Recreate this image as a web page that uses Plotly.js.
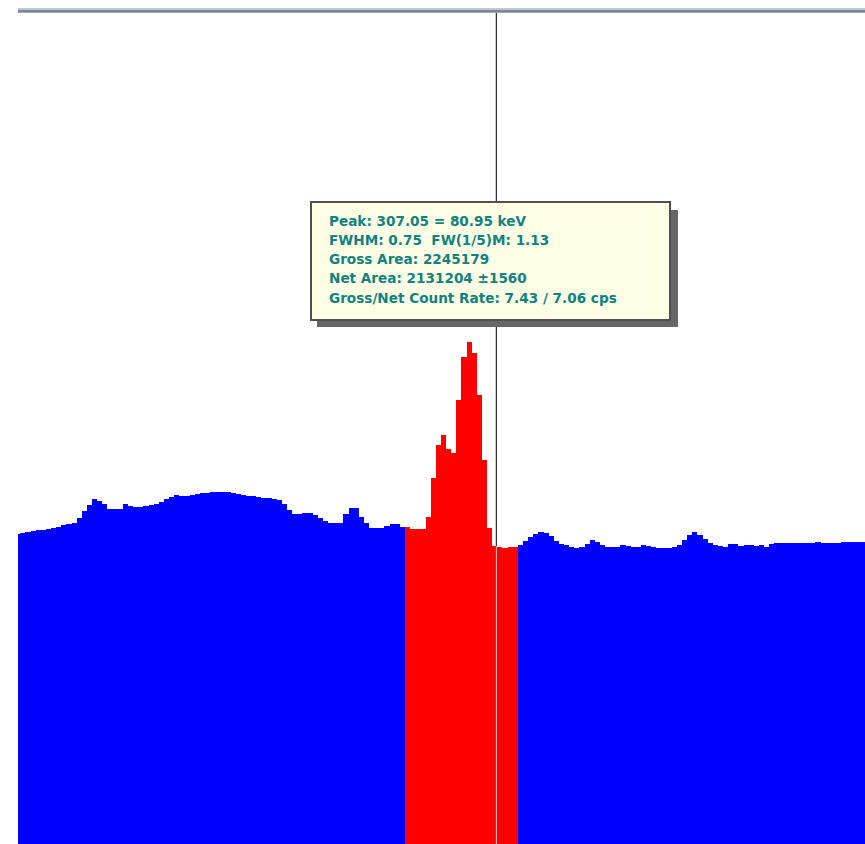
<!DOCTYPE html>
<html>
<head>
<meta charset="utf-8">
<script src="https://cdn.plot.ly/plotly-3.0.1.min.js"></script>
<style>
  html, body { margin: 0; padding: 0; background: #ffffff; }
  #spectrum { width: 865px; height: 844px; }
</style>
</head>
<body>
<div id="spectrum"></div>
<script>
// Counts per channel, below the region of interest (channels 219..294)
const lowFirstChannel = 219;
const lowCounts = [
  3105, 3110, 3120, 3130, 3140, 3145, 3155, 3165, 3175, 3190,
  3200, 3210, 3260, 3330, 3390, 3450, 3430, 3400, 3350, 3350,
  3350, 3400, 3380, 3370, 3375, 3380, 3390, 3400, 3420, 3450,
  3475, 3490, 3480, 3485, 3495, 3500, 3510, 3515, 3520, 3525,
  3525, 3520, 3510, 3500, 3490, 3485, 3480, 3470, 3465, 3460,
  3450, 3440, 3400, 3340, 3300, 3300, 3310, 3310, 3290, 3260,
  3230, 3213, 3213, 3213, 3300, 3360, 3360, 3273, 3210, 3163,
  3163, 3163, 3180, 3197, 3197, 3173
];

// Region of interest around the 80.95 keV peak (channels 295..316)
const roiFirstChannel = 295;
const roiCounts = [
  3170, 3150, 3150, 3150, 3270, 3660, 3990, 4090, 3950, 3910,
  4440, 4870, 5020, 4910, 4490, 3840, 3160, 2980, 2970, 2960,
  2970, 2970
];

// Counts per channel above the region of interest (channels 317..384)
const highFirstChannel = 317;
const highCounts = [
  2990, 3030, 3070, 3100, 3120, 3115, 3080, 3030, 3000, 2990,
  2970, 2965, 2970, 3000, 3040, 3020, 2990, 2975, 2970, 2970,
  2995, 2985, 2975, 2975, 2990, 2980, 2970, 2960, 2960, 2960,
  2970, 2990, 3040, 3090, 3120, 3090, 3050, 3015, 2990, 2985,
  2975, 3000, 3000, 2985, 2990, 2990, 2980, 2990, 2975, 3000,
  3010, 3010, 3010, 3010, 3010, 3010, 3010, 3015, 3020, 3010,
  3010, 3010, 3015, 3020, 3020, 3020, 3020, 3020
];

// Cursor position (channel)
const cursorChannel = 312.3;

// Peak report shown in the info box
const tipLines = [
  'Peak: 307.05 = 80.95 keV',
  'FWHM: 0.75\u00a0 FW(1/5)M: 1.13',
  'Gross Area: 2245179',
  'Net Area: 2131204 \u00b11560',
  'Gross/Net Count Rate: 7.43 / 7.06 cps'
];

const channelsFrom = (first, arr) => arr.map((_, i) => first + i);

const lowX = channelsFrom(lowFirstChannel, lowCounts);
const roiX = channelsFrom(roiFirstChannel, roiCounts);
const highX = channelsFrom(highFirstChannel, highCounts);

// page geometry
const W = 865, H = 844;
const M = { l: 18, r: 0, t: 13, b: 0 };
const PW = W - M.l - M.r, PH = H - M.t - M.b;
const px = x => (x - M.l) / PW;          // page x -> paper
const py = y => (H - M.b - y) / PH;      // page y -> paper

const BLUE = '#0000ff', RED = '#ff0000';

const traces = [
  {
    type: 'bar', x: lowX.concat(highX), y: lowCounts.concat(highCounts),
    width: 1, marker: { color: BLUE, line: { width: 0 } },
    hoverinfo: 'skip', showlegend: false
  },
  {
    type: 'bar', x: roiX, y: roiCounts,
    width: 1, marker: { color: RED, line: { width: 0 } },
    hoverinfo: 'skip', showlegend: false
  }
];

// bar under the cursor, used for the pale part of the cursor line
const allX = lowX.concat(roiX, highX);
const allY = lowCounts.concat(roiCounts, highCounts);
const underCursor = allY[allX.indexOf(Math.round(cursorChannel))];

const shapes = [
  // window top edge
  { type: 'rect', xref: 'paper', yref: 'paper', x0: 0, x1: 1, y0: py(10), y1: py(8),
    fillcolor: '#bdc8d3', line: { width: 0 }, layer: 'above' },
  { type: 'rect', xref: 'paper', yref: 'paper', x0: 0, x1: 1, y0: py(12.8), y1: py(10),
    fillcolor: '#7d8894', line: { width: 0 }, layer: 'above' },
  // cursor
  { type: 'line', xref: 'x', yref: 'paper', x0: cursorChannel, x1: cursorChannel,
    y0: 0, y1: 1, line: { color: '#000000', width: 1 }, layer: 'above' },
  { type: 'line', xref: 'x', yref: 'y', x0: cursorChannel, x1: cursorChannel,
    y0: 0, y1: underCursor, line: { color: '#e6dcd2', width: 1 }, layer: 'above' },
  // info box shadow and body
  { type: 'rect', xref: 'paper', yref: 'paper', x0: px(317), x1: px(678), y0: py(327), y1: py(210),
    fillcolor: '#666666', line: { width: 0 }, layer: 'above' },
  { type: 'rect', xref: 'paper', yref: 'paper', x0: px(311), x1: px(670), y0: py(320), y1: py(202),
    fillcolor: '#ffffe6', line: { color: '#505050', width: 2 }, layer: 'above' }
];

const lineTop = 215.7, lineStep = 19.15, capMid = 5.3;
const annotations = tipLines.map((t, i) => ({
  xref: 'paper', yref: 'paper', x: px(326.5), y: py(lineTop + capMid + i * lineStep),
  xanchor: 'left', yanchor: 'middle', showarrow: false, text: t,
  font: { family: 'DejaVu Sans', size: 13.6, color: '#0f8282', weight: 'bold' }
}));

const layout = {
  width: W, height: H,
  margin: M,
  paper_bgcolor: '#ffffff', plot_bgcolor: '#ffffff',
  bargap: 0,
  barmode: 'overlay',
  xaxis: { range: [219.06, 384.17], visible: false, fixedrange: true },
  yaxis: { range: [0, 8310], visible: false, fixedrange: true },
  shapes: shapes,
  annotations: annotations,
  showlegend: false
};

Plotly.newPlot('spectrum', traces, layout, { displayModeBar: false, staticPlot: true });
</script>
</body>
</html>
